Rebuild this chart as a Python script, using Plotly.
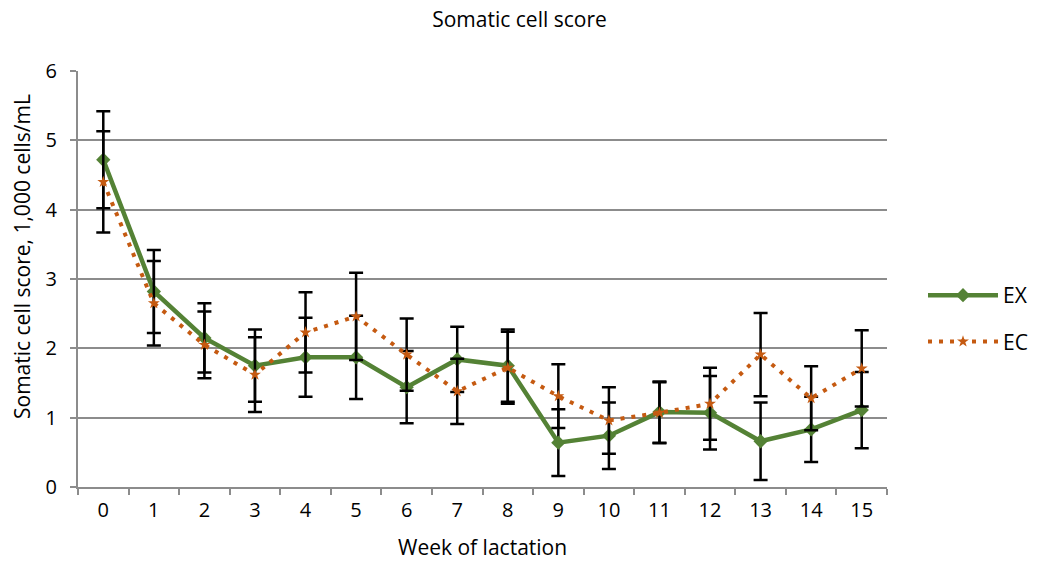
import plotly.graph_objects as go

weeks = [str(i) for i in range(16)]
ex_vals = [4.72, 2.82, 2.15, 1.75, 1.87, 1.87, 1.44, 1.84, 1.75, 0.64, 0.74, 1.08, 1.07, 0.66, 0.83, 1.11]
ex_err = [0.70, 0.60, 0.50, 0.52, 0.57, 0.60, 0.52, 0.47, 0.52, 0.48, 0.48, 0.44, 0.53, 0.56, 0.47, 0.55]
ec_vals = [4.40, 2.65, 2.05, 1.62, 2.23, 2.46, 1.91, 1.38, 1.72, 1.31, 0.96, 1.07, 1.20, 1.91, 1.28, 1.71]
ec_err = [0.73, 0.61, 0.48, 0.54, 0.58, 0.63, 0.52, 0.47, 0.52, 0.46, 0.48, 0.44, 0.52, 0.60, 0.46, 0.55]

FONT = "Open Sans"
GRID = "#8c8c8c"

fig = go.Figure()
fig.add_trace(go.Scatter(
    x=weeks, y=ex_vals, name="EX", mode="lines+markers", legendgroup="ex",
    line=dict(color="#548235", width=4.5),
    marker=dict(symbol="diamond", size=11, color="#548235"),
    error_y=dict(type="data", array=ex_err, visible=True, color="black", thickness=2.5, width=7),
))
fig.add_trace(go.Scatter(
    x=weeks, y=ec_vals, name="EC", mode="lines+markers", legendgroup="ec",
    line=dict(color="#c55a11", width=4, dash="4px,7px"),
    marker=dict(symbol="star", size=9, color="#c55a11"),
    error_y=dict(type="data", array=ec_err, visible=True, color="black", thickness=2.5, width=7),
))

fig.update_layout(
    width=1039, height=562,
    margin=dict(l=78, r=152, t=71, b=75, autoexpand=False),
    paper_bgcolor="white", plot_bgcolor="white",
    font=dict(family=FONT, size=20, color="black"),
    title=dict(text="Somatic cell score", x=0.5, xanchor="center", y=0.965, yanchor="middle",
               font=dict(family=FONT, size=21, color="black")),
    showlegend=True,
    legend=dict(x=1.0445, y=0.405, xanchor="left", yanchor="middle", itemwidth=70,
                traceorder="grouped", tracegroupgap=16,
                font=dict(family=FONT, size=21, color="black")),
    xaxis=dict(
        type="category", range=[-0.5, 15.5], tickson="boundaries",
        showline=True, linecolor=GRID, linewidth=2,
        ticks="outside", ticklen=6, tickcolor=GRID, tickwidth=2,
        showgrid=False, ticklabelstandoff=4,
        tickfont=dict(family=FONT, size=20),
    ),
    yaxis=dict(
        range=[0, 6], dtick=1, tick0=0,
        showline=True, linecolor=GRID, linewidth=2,
        ticks="outside", ticklen=6, tickcolor=GRID, tickwidth=2,
        showgrid=True, gridcolor=GRID, gridwidth=2,
        zeroline=False, ticklabelstandoff=9,
        tickfont=dict(family=FONT, size=20),
    ),
    annotations=[
        dict(text="Week of lactation", xref="paper", yref="paper", x=0.5, y=(487 - 547) / 416,
             xanchor="center", yanchor="middle", showarrow=False,
             font=dict(family=FONT, size=21, color="black")),
        dict(text="Somatic cell score, 1,000 cells/mL", xref="paper", yref="paper",
             x=(22 - 78) / 809, y=(487 - 257) / 416, textangle=-90,
             xanchor="center", yanchor="middle", showarrow=False,
             font=dict(family=FONT, size=21, color="black")),
    ],
)

fig.write_html("out.html")
